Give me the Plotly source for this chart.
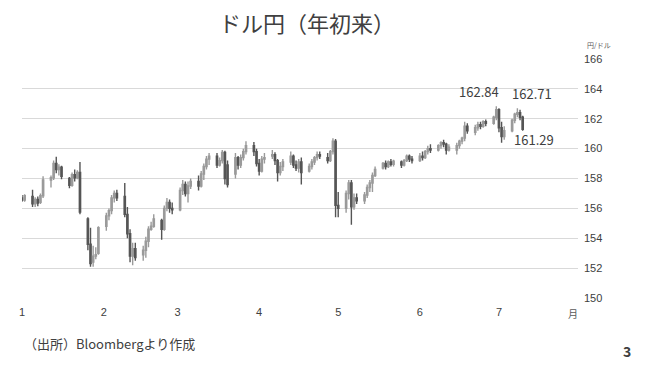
import plotly.graph_objects as go

# ---- data ----
dates = [
    "2026-01-01", "2026-01-02",
    "2026-01-05", "2026-01-06", "2026-01-07", "2026-01-08", "2026-01-09",
    "2026-01-12", "2026-01-13", "2026-01-14", "2026-01-15", "2026-01-16",
    "2026-01-19", "2026-01-20", "2026-01-21", "2026-01-22", "2026-01-23",
    "2026-01-26", "2026-01-27", "2026-01-28", "2026-01-29", "2026-01-30",
    "2026-02-02", "2026-02-03", "2026-02-04", "2026-02-05", "2026-02-06",
    "2026-02-09", "2026-02-10", "2026-02-11", "2026-02-12", "2026-02-13",
    "2026-02-16", "2026-02-17", "2026-02-18", "2026-02-19", "2026-02-20",
    "2026-02-23", "2026-02-24", "2026-02-25", "2026-02-26", "2026-02-27",
    "2026-03-02", "2026-03-03", "2026-03-04", "2026-03-05", "2026-03-06",
    "2026-03-09", "2026-03-10", "2026-03-11", "2026-03-12", "2026-03-13",
    "2026-03-16", "2026-03-17", "2026-03-18", "2026-03-19", "2026-03-20",
    "2026-03-23", "2026-03-24", "2026-03-25", "2026-03-26", "2026-03-27",
    "2026-03-30", "2026-03-31", "2026-04-01", "2026-04-02", "2026-04-03",
    "2026-04-06", "2026-04-07", "2026-04-08", "2026-04-09", "2026-04-10",
    "2026-04-13", "2026-04-14", "2026-04-15", "2026-04-16", "2026-04-17",
    "2026-04-20", "2026-04-21", "2026-04-22", "2026-04-23", "2026-04-24",
    "2026-04-27", "2026-04-28", "2026-04-29", "2026-04-30", "2026-05-01",
    "2026-05-04", "2026-05-05", "2026-05-06", "2026-05-07", "2026-05-08",
    "2026-05-11", "2026-05-12", "2026-05-13", "2026-05-14", "2026-05-15",
    "2026-05-18", "2026-05-19", "2026-05-20", "2026-05-21", "2026-05-22",
    "2026-05-25", "2026-05-26", "2026-05-27", "2026-05-28", "2026-05-29",
    "2026-06-01", "2026-06-02", "2026-06-03", "2026-06-04", "2026-06-05",
    "2026-06-08", "2026-06-09", "2026-06-10", "2026-06-11", "2026-06-12",
    "2026-06-15", "2026-06-16", "2026-06-17", "2026-06-18", "2026-06-19",
    "2026-06-22", "2026-06-23", "2026-06-24", "2026-06-25", "2026-06-26",
    "2026-06-29", "2026-06-30", "2026-07-01", "2026-07-02", "2026-07-03",
    "2026-07-06", "2026-07-07", "2026-07-08", "2026-07-09", "2026-07-10",
]

opens = [
    156.70, 156.55,
    156.80, 156.30, 156.60, 156.40, 156.85,
    157.90, 158.05, 159.00, 158.60, 158.75,
    158.00, 157.55, 158.25, 158.05, 158.40,
    155.30, 153.60, 152.40, 152.80, 153.00,
    154.80, 155.50, 155.85, 156.70, 157.00,
    156.80, 155.60, 154.30, 152.80, 153.30,
    152.90, 153.20, 153.80, 154.60, 154.80,
    155.20, 154.60, 156.00, 156.40, 156.00,
    155.90, 157.20, 157.60, 157.00, 157.50,
    157.80, 157.50, 158.30, 158.80, 159.30,
    159.50, 158.90, 159.20, 159.75, 158.90,
    158.30, 159.40, 158.90, 159.40, 159.80,
    160.20, 159.80, 159.00, 158.50, 159.30,
    159.50, 159.60, 159.20, 158.40, 158.80,
    159.10, 159.50, 158.90, 158.70, 159.10,
    158.50, 158.80, 159.10, 159.40, 159.60,
    159.40, 159.20, 159.80, 160.50, 156.20,
    156.00, 157.00, 157.70, 156.10, 156.70,
    156.50, 156.90, 157.40, 157.70, 158.20,
    158.70, 159.00, 158.80, 159.10, 158.95,
    159.10, 158.90, 159.20, 159.50, 159.30,
    159.20, 159.50, 159.40, 159.80, 160.00,
    159.90, 160.20, 160.40, 160.30, 159.90,
    159.90, 160.20, 160.50, 160.70, 161.50,
    161.10, 161.40, 161.60, 161.50, 161.80,
    161.70, 162.10, 162.60, 161.40, 160.80,
    161.20, 161.90, 162.30, 162.40, 162.10,
]

highs = [
    156.90, 156.95,
    157.25, 156.75, 156.80, 157.00, 158.15,
    158.20, 159.20, 159.45, 158.95, 158.85,
    158.10, 158.40, 158.60, 158.55, 159.10,
    155.40, 154.70, 153.50, 153.40, 154.80,
    155.70, 156.00, 156.90, 157.20, 157.25,
    157.70, 156.10, 154.60, 153.70, 153.70,
    153.50, 154.10, 154.80, 155.10, 155.60,
    155.30, 156.20, 156.70, 156.60, 156.40,
    157.40, 157.90, 157.80, 157.80, 158.00,
    158.20, 158.50, 159.00, 159.50, 159.70,
    159.70, 159.40, 159.90, 159.85, 159.20,
    159.70, 159.50, 159.60, 160.00, 160.50,
    160.45, 160.00, 159.30, 159.50, 159.70,
    159.90, 159.75, 159.30, 159.10, 159.30,
    159.80, 159.60, 159.20, 159.30, 159.40,
    159.00, 159.30, 159.50, 159.80, 159.80,
    159.70, 159.90, 160.70, 160.65, 157.10,
    157.20, 157.90, 157.90, 157.00, 157.00,
    157.10, 157.60, 157.90, 158.40, 158.80,
    159.10, 159.20, 159.20, 159.30, 159.25,
    159.20, 159.30, 159.60, 159.60, 159.50,
    159.70, 159.80, 159.90, 160.20, 160.30,
    160.30, 160.50, 160.60, 160.40, 160.30,
    160.40, 160.60, 160.80, 161.80, 161.70,
    161.60, 161.80, 161.80, 161.90, 161.95,
    162.20, 162.84, 162.70, 161.80, 161.50,
    162.00, 162.40, 162.71, 162.60, 162.20,
]

lows = [
    156.45, 156.45,
    156.10, 156.10, 156.15, 156.30, 156.70,
    157.40, 157.90, 158.35, 158.20, 157.95,
    157.35, 157.45, 157.80, 157.95, 155.60,
    153.20, 152.10, 152.10, 152.60, 152.90,
    154.50, 155.20, 155.60, 156.40, 156.50,
    155.40, 154.00, 152.40, 152.20, 152.50,
    152.50, 152.70, 153.40, 154.50, 154.70,
    153.90, 154.50, 155.80, 155.70, 155.60,
    155.80, 156.90, 156.80, 156.40, 157.30,
    157.20, 157.40, 157.90, 158.60, 158.90,
    158.70, 158.80, 159.00, 157.60, 157.40,
    158.00, 158.60, 158.70, 159.20, 159.60,
    159.50, 158.80, 158.20, 158.40, 159.00,
    159.30, 158.90, 157.80, 158.20, 158.50,
    158.90, 158.70, 158.50, 158.40, 157.60,
    158.40, 158.60, 158.90, 159.20, 159.30,
    159.00, 159.10, 159.60, 155.40, 155.40,
    155.70, 156.60, 154.90, 155.90, 156.30,
    156.30, 156.70, 157.10, 157.10, 158.10,
    158.60, 158.60, 158.70, 158.80, 158.80,
    158.70, 158.80, 159.10, 159.10, 159.00,
    159.10, 159.20, 159.30, 159.60, 159.70,
    159.80, 160.00, 160.10, 159.60, 159.80,
    159.60, 160.00, 160.30, 160.50, 161.00,
    160.90, 161.20, 161.30, 161.40, 161.50,
    161.60, 161.90, 161.10, 160.40, 160.60,
    161.10, 161.70, 162.10, 161.90, 161.20,
]

closes = [
    156.55, 156.85,
    156.30, 156.60, 156.35, 156.85, 157.90,
    158.05, 159.00, 158.60, 158.75, 158.15,
    157.55, 158.25, 158.05, 158.40, 155.75,
    153.60, 152.30, 152.80, 152.90, 154.70,
    155.50, 155.85, 156.70, 157.00, 156.70,
    155.60, 154.30, 152.80, 153.30, 152.70,
    153.20, 153.80, 154.60, 154.80, 155.30,
    154.60, 156.00, 156.40, 156.00, 155.90,
    157.20, 157.60, 157.00, 157.50, 157.80,
    157.50, 158.30, 158.80, 159.30, 159.50,
    158.90, 159.20, 159.75, 158.00, 157.60,
    159.40, 158.90, 159.40, 159.80, 160.20,
    159.80, 159.00, 158.50, 159.30, 159.40,
    159.60, 159.20, 158.40, 158.80, 159.10,
    159.50, 158.90, 158.70, 159.10, 158.40,
    158.80, 159.10, 159.40, 159.60, 159.50,
    159.20, 159.80, 160.50, 156.20, 156.00,
    157.00, 157.70, 156.10, 156.70, 156.50,
    156.90, 157.40, 157.70, 158.20, 158.60,
    159.00, 158.80, 159.10, 158.95, 159.15,
    158.90, 159.20, 159.50, 159.30, 159.20,
    159.50, 159.40, 159.80, 160.00, 159.90,
    160.20, 160.40, 160.30, 159.90, 160.10,
    160.20, 160.50, 160.70, 161.50, 161.20,
    161.40, 161.60, 161.50, 161.80, 161.70,
    162.10, 162.60, 161.40, 160.80, 161.20,
    161.90, 162.30, 162.40, 162.10, 161.29,
]

month_ticks = ["2026-01-01", "2026-02-01", "2026-03-01", "2026-04-01",
               "2026-05-01", "2026-06-01", "2026-07-01"]
month_labels = ["1", "2", "3", "4", "5", "6", "7"]
y_ticks = [150, 152, 154, 156, 158, 160, 162, 164, 166]

title_text = "ドル円（年初来）"
unit_text = "円/ドル"
month_unit = "月"
source_text = "（出所）Bloombergより作成"
page_no = "3"

# ---- derived label points ----
i_max = highs.index(max(highs))
last_week_high = max(highs[-5:])
i_lw = highs.index(last_week_high)
i_last = len(closes) - 1

JP = "Noto Sans CJK JP, Noto Sans, sans-serif"
NUM = "Liberation Sans Narrow, Arial Narrow, Liberation Sans, sans-serif"
TXT = "#404040"

fig = go.Figure()
fig.add_trace(go.Candlestick(
    x=dates, open=opens, high=highs, low=lows, close=closes,
    increasing=dict(line=dict(color="#9a9a9a", width=1.4), fillcolor="#9a9a9a"),
    decreasing=dict(line=dict(color="#555555", width=1.4), fillcolor="#555555"),
    whiskerwidth=0, showlegend=False, hoverinfo="skip",
))

annotations = [
    dict(text=title_text, xref="paper", yref="paper", x=0.5126, y=1.155,
         xanchor="center", yanchor="middle", showarrow=False,
         font=dict(family=JP, size=22, color=TXT)),
    dict(text=unit_text, xref="paper", yref="paper", x=1.012, y=1.057,
         xanchor="left", yanchor="middle", showarrow=False,
         font=dict(family=JP, size=7, color="#595959")),
    dict(text=month_unit, xref="paper", yref="paper", x=0.991, y=-0.063,
         xanchor="center", yanchor="middle", showarrow=False,
         font=dict(family=JP, size=10, color="#595959")),
    dict(text=source_text, xref="paper", yref="paper", x=0.0, y=-0.192,
         xanchor="left", yanchor="middle", showarrow=False,
         font=dict(family=JP, size=13, color=TXT)),
    dict(text="<b>" + page_no + "</b>", xref="paper", yref="paper", x=1.088, y=-0.222,
         xanchor="center", yanchor="middle", showarrow=False,
         font=dict(family=JP, size=14, color=TXT)),
    dict(text=f"{highs[i_max]:.2f}", x=dates[i_max], y=highs[i_max],
         xanchor="right", yanchor="bottom", xshift=5, yshift=3, showarrow=False,
         font=dict(family=JP, size=13, color=TXT)),
    dict(text=f"{last_week_high:.2f}", x=dates[i_lw], y=last_week_high,
         xanchor="left", yanchor="bottom", xshift=-7, yshift=3, showarrow=False,
         font=dict(family=JP, size=13, color=TXT)),
    dict(text=f"{closes[i_last]:.2f}", x=dates[i_last], y=closes[i_last],
         xanchor="left", yanchor="top", xshift=-11, yshift=1, showarrow=False,
         font=dict(family=JP, size=13, color=TXT)),
]

fig.update_layout(
    width=645, height=367,
    margin=dict(l=22, r=67, t=59, b=69),
    paper_bgcolor="white", plot_bgcolor="white",
    annotations=annotations,
    xaxis=dict(type="date", range=["2026-01-01", "2026-07-31"],
               tickvals=month_ticks, ticktext=month_labels,
               showgrid=False, zeroline=False, showline=False, ticks="",
               tickfont=dict(family=NUM, size=11, color="#404040"),
               ticklabelstandoff=6,
               rangeslider=dict(visible=False), fixedrange=True),
    yaxis=dict(side="right", range=[150, 166], tickvals=y_ticks,
               showgrid=True, gridcolor="#d9d9d9", gridwidth=1,
               zeroline=False, showline=False, ticks="",
               tickfont=dict(family=NUM, size=11, color="#404040"),
               ticklabelstandoff=5, fixedrange=True),
)

fig.write_html("out.html")
